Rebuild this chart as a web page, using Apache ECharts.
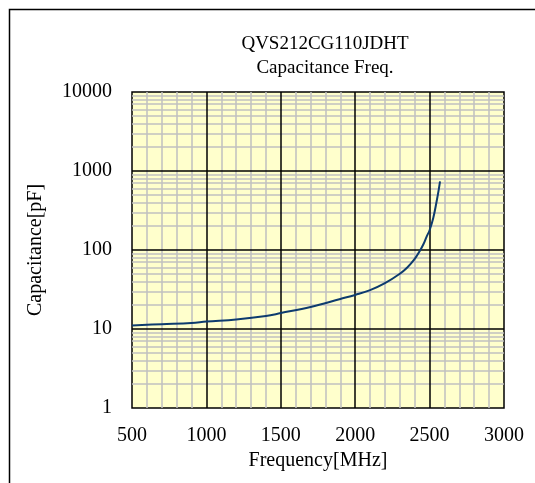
<!doctype html>
<html>
<head>
<meta charset="utf-8">
<title>QVS212CG110JDHT Capacitance Freq.</title>
<style>
    html, body { margin: 0; padding: 0; background: #fff; }
    #chart { width: 535px; height: 483px; }
</style>
</head>
<body>
<div id="chart"></div>
<script src="https://cdn.jsdelivr.net/npm/echarts@6/dist/echarts.min.js"></script>
<script>
    // curve: frequency [MHz] -> capacitance [pF]
    var freq = [500, 700, 900, 1000, 1200, 1400, 1500, 1700, 1900, 2000, 2100, 2200,
                2300, 2350, 2400, 2435, 2460, 2480, 2500, 2525, 2548, 2562, 2570];
    var cap = [11.1, 11.5, 11.9, 12.4, 13.2, 14.6, 15.9, 19, 24, 27, 31, 38,
               50, 60, 77, 98, 120, 148, 178, 256, 420, 590, 740];

    var xTicks = [500, 1000, 1500, 2000, 2500, 3000];
    var yMajor = [1, 10, 100, 1000, 10000];
    var yMinor = [];
    yMajor.slice(0, 4).forEach(function (d) {
        for (var k = 2; k <= 9; k++) yMinor.push(d * k);
    });

    var font = '"Liberation Serif", "Times New Roman", serif';
    var chart = echarts.init(document.getElementById('chart'));

    var points = freq.map(function (f, i) { return [f, cap[i]]; });
    var plain = function (v) { return String(v); };

    var option = {
        animation: false,
        title: {
            text: 'QVS212CG110JDHT\nCapacitance Freq.',
            left: 320,
            top: 27,
            textAlign: 'center',
            textStyle: { fontFamily: font, fontSize: 19, fontWeight: 'normal', color: '#000', lineHeight: 24 }
        },
        graphic: [{
            type: 'rect',
            shape: { x: 9.5, y: 9.5, width: 540, height: 490 },
            style: { fill: 'none', stroke: '#000', lineWidth: 1.5 },
            silent: true
        }],
        grid: {
            left: 132, right: 31, top: 92, bottom: 75,
            show: true,
            backgroundColor: '#ffffcc',
            borderColor: '#000',
            borderWidth: 1.5
        },
        xAxis: {
            type: 'value',
            min: 500, max: 3000, interval: 500,
            name: 'Frequency[MHz]',
            nameLocation: 'middle',
            nameGap: 41,
            nameTextStyle: { fontFamily: font, fontSize: 20, color: '#000' },
            axisLine: { show: false },
            axisTick: { show: false },
            axisLabel: { fontFamily: font, fontSize: 20, color: '#000', margin: 18, formatter: plain },
            splitLine: { show: false },
            minorTick: { show: false, splitNumber: 5 },
            minorSplitLine: { show: true, lineStyle: { color: '#c0c0c0', width: 1.5 } }
        },
        yAxis: {
            type: 'log',
            logBase: 10,
            min: 1, max: 10000,
            name: 'Capacitance[pF]',
            nameLocation: 'middle',
            nameGap: 86,
            nameTextStyle: { fontFamily: font, fontSize: 20, color: '#000' },
            axisLine: { show: false },
            axisTick: { show: false },
            axisLabel: { fontFamily: font, fontSize: 20, color: '#000', margin: 20, formatter: plain },
            splitLine: { show: false }
        },
        series: [
            {
                // minor log grid lines
                type: 'line',
                data: [],
                z: 1,
                silent: true,
                markLine: {
                    z: 1,
                    silent: true,
                    symbol: 'none',
                    label: { show: false },
                    lineStyle: { color: '#c0c0c0', width: 1.5, type: 'solid' },
                    data: yMinor.map(function (v) { return { yAxis: v }; })
                }
            },
            {
                // major grid lines
                type: 'line',
                data: [],
                z: 2,
                silent: true,
                markLine: {
                    z: 2,
                    silent: true,
                    symbol: 'none',
                    label: { show: false },
                    lineStyle: { color: '#000', width: 1.5, type: 'solid' },
                    data: yMajor.slice(1, 4).map(function (v) { return { yAxis: v }; })
                        .concat(xTicks.slice(1, 5).map(function (v) { return { xAxis: v }; }))
                }
            },
            {
                type: 'line',
                data: points,
                z: 6,
                smooth: 0.4,
                showSymbol: false,
                lineStyle: { color: '#0d3b6e', width: 2 }
            }
        ]
    };
    chart.setOption(option);
</script>
</body>
</html>
